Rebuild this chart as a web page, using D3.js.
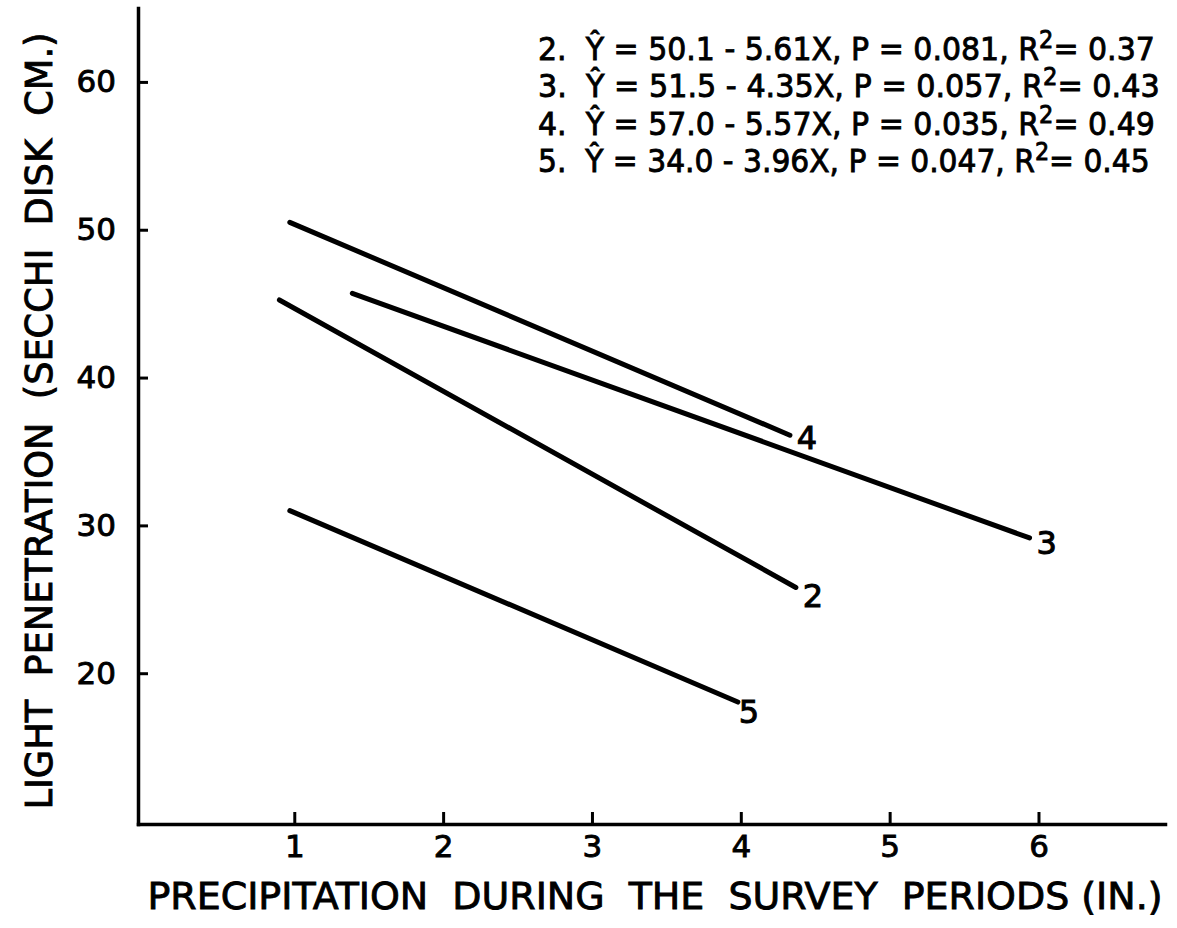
<!DOCTYPE html>
<html><head><meta charset="utf-8">
<script src="https://cdn.jsdelivr.net/npm/d3@7"></script>
<style>body{margin:0;background:#fff}svg{display:block}</style>
</head><body><svg id="c" width="1177" height="928"></svg>
<script>
// ---- data ----
const seriesIds = ["2", "3", "4", "5"];
const startX = [0.90, 1.39, 0.97, 0.97];
const startY = [45.25, 45.7, 50.5, 31.0];
const endX = [4.37, 5.94, 4.33, 3.98];
const endY = [25.8, 29.15, 36.1, 18.05];
const intercepts = ["50.1", "51.5", "57.0", "34.0"];
const slopes = ["5.61", "4.35", "5.57", "3.96"];
const pValues = ["0.081", "0.057", "0.035", "0.047"];
const rSquared = ["0.37", "0.43", "0.49", "0.45"];
const xTicks = [1, 2, 3, 4, 5, 6];
const yTicks = [20, 30, 40, 50, 60];
const xTitle = "PRECIPITATION  DURING  THE  SURVEY  PERIODS (IN.)";
const yTitle = "LIGHT  PENETRATION  (SECCHI  DISK  CM.)";

// ---- drawing ----
const FONT = "'DejaVu Sans', sans-serif";
const svg = d3.select("#c");
svg.append("rect").attr("width", 1177).attr("height", 928).attr("fill", "#fff");

const x = d3.scaleLinear().domain([-0.05, 6.85]).range([138, 1165]);
const y = d3.scaleLinear().domain([9.8, 65]).range([824, 8]);

const yAxis = svg.append("g").attr("transform", `translate(${x(-0.05)},0)`)
  .call(d3.axisLeft(y).tickValues(yTicks).tickFormat(d3.format("d"))
    .tickSizeInner(-10).tickSizeOuter(0).tickPadding(22));
const xAxis = svg.append("g").attr("transform", `translate(0,${y(9.8)})`)
  .call(d3.axisBottom(x).tickValues(xTicks).tickFormat(d3.format("d"))
    .tickSizeInner(-12).tickSizeOuter(0).tickPadding(11));

[xAxis, yAxis].forEach(g => {
  g.select(".domain").attr("stroke", "#000").attr("stroke-width", 3.5).attr("stroke-linecap", "square");
  g.selectAll(".tick line").attr("stroke", "#000").attr("stroke-width", 3);
  g.selectAll(".tick text").attr("fill", "#000").attr("font-family", FONT)
    .attr("font-size", 31).attr("stroke", "#000").attr("stroke-width", 0.9);
});

// regression lines
const idx = d3.range(seriesIds.length);
svg.append("g").selectAll("line").data(idx).join("line")
  .attr("x1", i => x(startX[i])).attr("y1", i => y(startY[i]))
  .attr("x2", i => x(endX[i])).attr("y2", i => y(endY[i]))
  .attr("stroke", "#000").attr("stroke-width", 5).attr("stroke-linecap", "round");

// line labels
const labelOffset = [[17, 9], [17, 5], [17, 3], [11, 10]];
svg.append("g").selectAll("text").data(idx).join("text")
  .attr("x", i => x(endX[i]) + labelOffset[i][0])
  .attr("y", i => y(endY[i]) + labelOffset[i][1])
  .attr("text-anchor", "middle").attr("dominant-baseline", "central")
  .attr("font-family", FONT).attr("font-size", 32)
  .attr("stroke", "#000").attr("stroke-width", 1)
  .text(i => seriesIds[i]);

// legend equations
const legendX = 538, legendY0 = 60, legendStep = 37.5;
const legendRight = [1155, 1160, 1155, 1150];
idx.forEach(i => {
  const t = svg.append("text")
    .attr("x", legendX).attr("y", legendY0 + legendStep * i)
    .attr("font-family", FONT).attr("font-size", 32)
    .attr("fill", "#000").attr("stroke", "#000").attr("stroke-width", 0.9)
    .attr("xml:space", "preserve");
  t.append("tspan").text(`${seriesIds[i]}.  \u0176 = ${intercepts[i]} - ${slopes[i]}X, P = ${pValues[i]}, R`);
  t.append("tspan").attr("dy", -12).attr("font-size", 24).text("2");
  t.append("tspan").attr("dy", 12).text("= " + rSquared[i]);
  const w = t.node().getBBox().width;
  const sx = (legendRight[i] - legendX) / w;
  t.attr("transform", `translate(${legendX},0) scale(${sx},1) translate(${-legendX},0)`);
});

// axis titles
svg.append("text")
  .attr("x", 655).attr("y", 909).attr("text-anchor", "middle")
  .attr("font-family", FONT).attr("font-size", 38)
  .attr("stroke", "#000").attr("stroke-width", 0.9)
  .attr("textLength", 1015).attr("lengthAdjust", "spacingAndGlyphs")
  .attr("xml:space", "preserve")
  .text(xTitle);
svg.append("text")
  .attr("transform", "translate(52,421) rotate(-90)").attr("text-anchor", "middle")
  .attr("font-family", FONT).attr("font-size", 37)
  .attr("stroke", "#000").attr("stroke-width", 0.9)
  .attr("textLength", 777).attr("lengthAdjust", "spacingAndGlyphs")
  .attr("xml:space", "preserve")
  .text(yTitle);
</script></body></html>
